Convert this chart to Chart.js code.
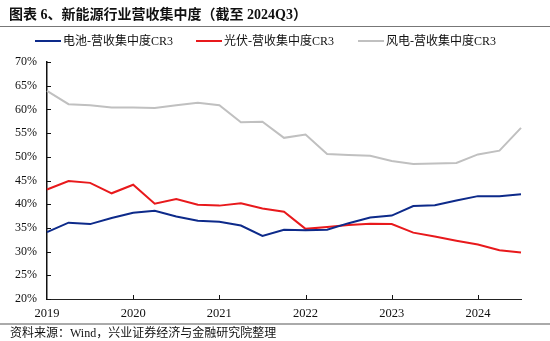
<!DOCTYPE html>
<html>
<head>
<meta charset="utf-8">
<script src="https://cdn.jsdelivr.net/npm/chart.js@4.4.1/dist/chart.umd.min.js"></script>
<style>
  html, body { margin: 0; padding: 0; background: #fff; }
  #wrap { position: relative; width: 550px; height: 341px; overflow: hidden; font-family: "Liberation Serif", "Noto Sans CJK SC", serif; }
  #title { position: absolute; left: 9px; top: 3px; font-size: 14px; font-weight: bold; color: #111; white-space: pre; font-family: "Liberation Serif", "Noto Sans CJK SC", serif; }
  #rule1 { position: absolute; left: 0; top: 26px; width: 550px; height: 1px; background: #777; }
  #legend { position: absolute; top: 33px; left: 0; width: 550px; height: 16px; font-size: 12px; color: #111; }
  .li { position: absolute; top: 0; white-space: nowrap; line-height: 16px; }
  .sw { display: inline-block; width: 26px; height: 2px; vertical-align: middle; margin-right: 2px; position: relative; top: -1px; }
  #rule2 { position: absolute; left: 0; top: 323px; width: 550px; height: 2px; background: #aaa; }
  #source { position: absolute; left: 10px; top: 325px; font-size: 12px; color: #111; white-space: pre; line-height: 16px; }
  #c { position: absolute; left: 0; top: 0; }
</style>
</head>
<body>
<div id="wrap">
  <canvas id="c" width="550" height="341"></canvas>
  <div id="title">图表 6、新能源行业营收集中度（截至 2024Q3）</div>
  <div id="rule1"></div>
  <div id="legend"></div>
  <div id="rule2"></div>
  <div id="source">资料来源：Wind，兴业证券经济与金融研究院整理</div>
</div>
<script>
// ---- data ----
const quarters = [
  '2019Q1','2019Q2','2019Q3','2019Q4',
  '2020Q1','2020Q2','2020Q3','2020Q4',
  '2021Q1','2021Q2','2021Q3','2021Q4',
  '2022Q1','2022Q2','2022Q3','2022Q4',
  '2023Q1','2023Q2','2023Q3','2023Q4',
  '2024Q1','2024Q2','2024Q3'
];
const yearLabels = ['2019','2020','2021','2022','2023','2024'];
const seriesNames = ['电池-营收集中度CR3','光伏-营收集中度CR3','风电-营收集中度CR3'];
const battery = [34.1,36.1,35.8,37.1,38.2,38.6,37.4,36.5,36.3,35.5,33.3,34.6,34.5,34.6,36.0,37.2,37.6,39.6,39.8,40.8,41.7,41.7,42.1];
const solar   = [43.1,44.9,44.5,42.3,44.1,40.1,41.1,39.9,39.7,40.2,39.1,38.4,34.8,35.2,35.6,35.9,35.8,34.0,33.2,32.3,31.5,30.3,29.8];
const wind    = [63.9,61.1,60.9,60.4,60.4,60.3,60.9,61.4,60.9,57.3,57.4,54.0,54.7,50.6,50.4,50.2,49.1,48.5,48.6,48.7,50.5,51.3,56.1];
const yTicks = { min: 20, max: 70, step: 5 };
const colors = ['#0d2a8a', '#e8191c', '#c0c0c0'];

// ---- legend (HTML text) ----
const legendLefts = [35, 196, 358];
const legendEl = document.getElementById('legend');
seriesNames.forEach((n, i) => {
  const d = document.createElement('div');
  d.className = 'li';
  d.style.left = legendLefts[i] + 'px';
  d.innerHTML = '<span class="sw" style="background:' + colors[i] + '"></span>' + n;
  legendEl.appendChild(d);
});

// ---- inner ticks plugin ----
const innerTicks = {
  id: 'innerTicks',
  afterDraw(chart) {
    const ctx = chart.ctx;
    const xs = chart.scales.x, ys = chart.scales.y;
    ctx.save();
    ctx.strokeStyle = '#111';
    ctx.lineWidth = 1;
    ys.ticks.forEach(t => {
      const p = Math.round(ys.getPixelForValue(t.value)) + 0.5;
      ctx.beginPath();
      ctx.moveTo(xs.left, p);
      ctx.lineTo(xs.left + 4, p);
      ctx.stroke();
    });
    quarters.forEach((q, i) => {
      if (i % 4 !== 0 || i === 0) return;
      const p = Math.round(xs.getPixelForValue(i)) + 0.5;
      ctx.beginPath();
      ctx.moveTo(p, ys.bottom);
      ctx.lineTo(p, ys.bottom - 4);
      ctx.stroke();
    });
    ctx.restore();
  }
};

const tickFont = { family: '"Liberation Serif", "Noto Sans CJK SC", serif', size: 12 };

new Chart(document.getElementById('c'), {
  type: 'line',
  data: {
    labels: quarters,
    datasets: [battery, solar, wind].map((d, i) => ({
      label: seriesNames[i],
      data: d,
      borderColor: colors[i],
      backgroundColor: colors[i],
      borderWidth: 2,
      pointRadius: 0,
      tension: 0,
      fill: false
    }))
  },
  options: {
    responsive: false,
    animation: false,
    events: [],
    layout: { padding: { left: 0, right: 29, top: 62, bottom: 0 } },
    plugins: { legend: { display: false }, tooltip: { enabled: false }, title: { display: false } },
    scales: {
      x: {
        type: 'category',
        offset: false,
        grid: { display: true, drawOnChartArea: false, drawTicks: false },
        border: { display: true, color: '#222', width: 1 },
        ticks: {
          autoSkip: false,
          maxRotation: 0,
          padding: 7,
          color: '#111',
          font: { family: tickFont.family, size: 12.5 },
          callback: (v, i) => (i % 4 === 0 ? yearLabels[i / 4] : null)
        },
        afterFit: s => { s.height = 42; }
      },
      y: {
        min: yTicks.min,
        max: yTicks.max,
        grid: { display: true, drawOnChartArea: false, drawTicks: false },
        border: { display: true, color: '#111', width: 1.5 },
        ticks: {
          stepSize: yTicks.step,
          padding: 10,
          color: '#111',
          font: tickFont,
          callback: v => v + '%'
        },
        afterFit: s => { s.width = 47; }
      }
    }
  },
  plugins: [innerTicks]
});
</script>
</body>
</html>
